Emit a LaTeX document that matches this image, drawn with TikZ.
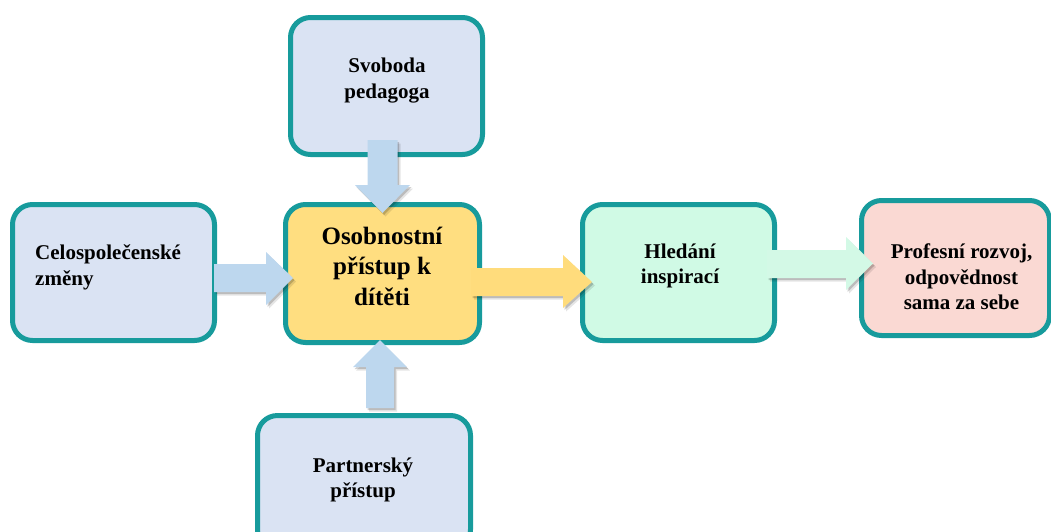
\documentclass[tikz,border=0pt]{standalone}
\usepackage{fontspec}
\setmainfont{Liberation Serif}
\usetikzlibrary{shadows}
\definecolor{tealB}{HTML}{179B9C}
\definecolor{blueF}{HTML}{DAE3F3}
\definecolor{yellowF}{HTML}{FFDE80}
\definecolor{mintF}{HTML}{D0FAE5}
\definecolor{pinkF}{HTML}{FAD9D3}
\definecolor{blueA}{HTML}{BDD7EE}
\definecolor{yellowA}{HTML}{FFDC7C}
\definecolor{mintA}{HTML}{D3F9E6}
\begin{document}
\begin{tikzpicture}[x=1pt,y=-1pt,
  box/.style={draw=tealB, line width=5pt, rounded corners=20pt, inner sep=0pt},
  lbl/.style={font=\bfseries\fontsize{21}{25.5}\selectfont, align=center, inner sep=0pt, text=black},
  barrow/.style={draw=none,
    drop shadow={shadow xshift=3pt, shadow yshift=-3.5pt, opacity=0.10, fill=black},
    drop shadow={shadow xshift=1.5pt, shadow yshift=-2pt, opacity=0.18, fill=black}}]
\useasboundingbox (0,0) rectangle (1051,531);
% boxes
\node[box, fill=blueF, minimum width=192pt, minimum height=137pt] (svo) at (386.5,86) {};
\node[box, fill=blueF, minimum width=202pt, minimum height=136pt] (cel) at (113.5,272.5) {};
\node[box, fill=yellowF, minimum width=194pt, minimum height=138pt] (cen) at (382.5,273.5) {};
\node[box, fill=mintF, minimum width=192pt, minimum height=136pt] (hle) at (678.5,272.5) {};
\node[box, fill=pinkF, minimum width=188pt, minimum height=135pt] (pro) at (955.5,268) {};
\node[box, fill=blueF, minimum width=213pt, minimum height=134pt] (par) at (364,482.5) {};
% block arrows
\path[barrow, fill=blueA] (367.5,140) -- (397.5,140) -- (397.5,185) -- (410,185) -- (382.5,213) -- (355,185) -- (367.5,185) -- cycle;
\path[barrow, fill=blueA] (366,408) -- (394,408) -- (394,367) -- (407,367) -- (380,340) -- (353,367) -- (366,367) -- cycle;
\path[barrow, fill=blueA] (214,264) -- (266,264) -- (266,252) -- (293,278) -- (266,305) -- (266,292) -- (214,292) -- cycle;
\path[barrow, fill=yellowA] (471,268) -- (563,268) -- (563,255) -- (592,282) -- (563,308) -- (563,296) -- (471,296) -- cycle;
\path[barrow, fill=mintA] (767,250) -- (846,250) -- (846,237) -- (873,263.5) -- (846,290) -- (846,278) -- (767,278) -- cycle;
% labels
\node[lbl] (tsvo) at (387,80.5) {Svoboda\\pedagoga};
\node[lbl, align=left, anchor=west] (tcel) at (35,267.5) {Celospolečenské\\změny};
\node[lbl, font=\bfseries\fontsize{25}{30.5}\selectfont] (tcen) at (382,266) {Osobnostní\\přístup k\\dítěti};
\node[lbl] (thle) at (680,266) {Hledání\\inspirací};
\node[lbl] (tpro) at (961.5,277) {Profesní rozvoj,\\odpovědnost\\sama za sebe};
\node[lbl] (tpar) at (363,480) {Partnerský\\přístup};
\end{tikzpicture}
\end{document}
